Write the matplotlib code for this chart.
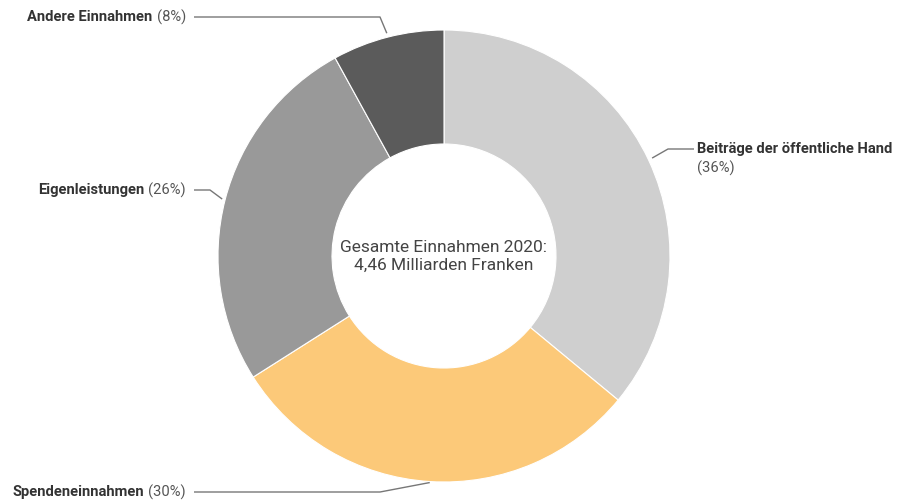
import numpy as np
import matplotlib.pyplot as plt

plt.rcParams['font.family'] = ['Roboto', 'DejaVu Sans']

# Daten
labels = ['Beiträge der öffentliche Hand', 'Spendeneinnahmen', 'Eigenleistungen', 'Andere Einnahmen']
shares = [36, 30, 26, 8]
colors = ['#cfcfcf', '#fcc979', '#999999', '#5b5b5b']
center_text = 'Gesamte Einnahmen 2020:\n4,46 Milliarden Franken'

W, H = 903, 501
cx, cy = 444, H - 256
r_out, r_in = 226, 112
fs = 10.6

fig = plt.figure(figsize=(W / 100, H / 100), dpi=100)
ax = fig.add_axes([0, 0, 1, 1])

wedges, _ = ax.pie(shares, colors=colors, startangle=90, counterclock=False,
                   center=(cx, cy), radius=r_out,
                   wedgeprops=dict(width=r_out - r_in, edgecolor='white', linewidth=0.8))
ax.set_xlim(0, W)
ax.set_ylim(0, H)
ax.set_aspect('equal')
ax.axis('off')

ax.text(cx, cy, center_text, ha='center', va='center', fontsize=12.5,
        color='#444444', linespacing=1.25)

renderer = fig.canvas.get_renderer()
line_kw = dict(color='#777777', lw=1.0, solid_capstyle='butt')


def anchor(w, r=r_out + 2):
    a = np.deg2rad((w.theta1 + w.theta2) / 2)
    return cx + r * np.cos(a), cy + r * np.sin(a)


def left_label(name, pct, x_end, y):
    t = ax.text(x_end, y, f'({pct}%)', ha='right', va='center', fontsize=fs, color='#555555')
    bb = t.get_window_extent(renderer)
    x0 = ax.transData.inverted().transform((bb.x0, bb.y0))[0]
    ax.text(x0 - 4, y, name, ha='right', va='center', fontsize=fs,
            fontweight='bold', color='#333333')


# Beiträge (rechts)
ax_, ay_ = anchor(wedges[0], r_out + 4)
ly = H - 149
ax.plot([ax_, 668, 694], [ay_, ly, ly], **line_kw)
ax.text(697, ly, labels[0], ha='left', va='center', fontsize=fs,
        fontweight='bold', color='#333333')
ax.text(697, H - 168, f'({shares[0]}%)', ha='left', va='center', fontsize=fs, color='#555555')

# Spendeneinnahmen
ax_, ay_ = anchor(wedges[1], r_out + 1)
ly = H - 492
ax.plot([ax_, 380, 194], [ay_, ly, ly], **line_kw)
left_label(labels[1], shares[1], 186, ly)

# Eigenleistungen
ax_, ay_ = anchor(wedges[2], r_out + 3)
ly = H - 190
ax.plot([ax_, 210, 194], [ay_, ly, ly], **line_kw)
left_label(labels[2], shares[2], 186, ly)

# Andere Einnahmen
ax_, ay_ = anchor(wedges[3], r_out + 4)
ly = H - 17
ax.plot([ax_, 380, 194], [ay_, ly, ly], **line_kw)
left_label(labels[3], shares[3], 186, ly)

fig.savefig('out.png', dpi=100, facecolor='white')
